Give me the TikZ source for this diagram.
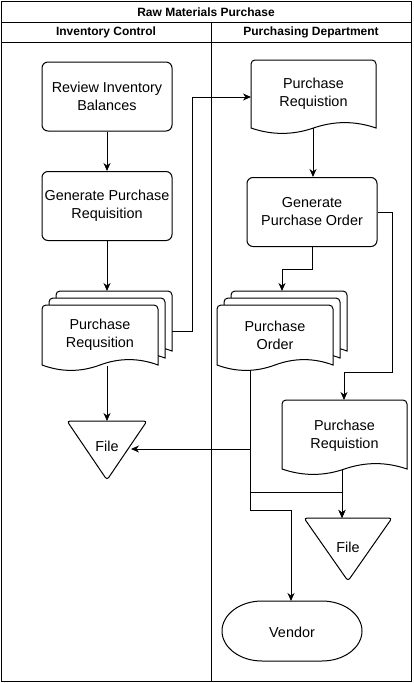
\documentclass[tikz,border=0pt]{standalone}
\usepackage{fontspec}
\setmainfont{Liberation Sans}
\usetikzlibrary{arrows.meta}
\tikzset{
  ln/.style={line width=1pt},
  arr/.style={ln,-{Stealth[length=8pt,width=7pt,inset=2.5pt]}},
  shp/.style={ln, fill=white},
  txt/.style={align=center, font=\fontsize{14.4}{18}\selectfont, inner sep=0pt},
  hdr/.style={font=\bfseries\fontsize{12}{14}\selectfont, inner sep=0pt},
  box/.style={inner sep=0pt, outer sep=0pt},
  procbox/.style={draw, ln, rounded corners=6pt, minimum width=130pt, minimum height=69pt, txt},
}
\newcommand\wavedoc[4]{%
  \draw[shp] (#1,#2+#4-6) [rounded corners=4pt] -- (#1,#2) -- (#1+#3,#2) [sharp corners] -- (#1+#3,#2+#4-6)
    .. controls (#1+5*#3/6,#2+#4-13.2) and (#1+2*#3/3,#2+#4-13.2) .. (#1+#3/2,#2+#4-6)
    .. controls (#1+#3/3,#2+#4+1.2) and (#1+#3/6,#2+#4+1.2) .. (#1,#2+#4-6) -- cycle;}
\begin{document}
\begin{tikzpicture}[x=1pt,y=-1pt]
\useasboundingbox (0,0) rectangle (413,683);
% frame
\draw[ln] (1,1) rectangle (411,681);
\draw[ln] (1,22) -- (411,22);
\draw[ln] (1,42) -- (411,42);
\draw[ln] (211,22) -- (211,681);
\node[hdr] (title) at (206,12) {Raw Materials Purchase};
\node[hdr] (lane1) at (106,32) {Inventory Control};
\node[hdr] (lane2) at (311,32) {Purchasing Department};

% left lane
\node[procbox] (rev) at (107,96.5) {Review Inventory\\Balances};
\node[procbox] (gpr) at (107,206) {Generate Purchase\\Requisition};
\wavedoc{56}{291}{116}{66}
\wavedoc{49}{298}{116}{66}
\wavedoc{42}{305}{116}{66}
\node[box, minimum width=130pt, minimum height=80pt] (mdl) at (107,331) {};
\node[txt] (mdlt) at (100,334.5) {Purchase\\Requsition};
\coordinate (mdlout) at (107,366);
\draw[shp, rounded corners=3pt] (67,421) -- (147,421) -- (107,480) -- cycle;
\node[txt] (file1) at (107,446) {File};
\coordinate (file1top) at (107,421);
\coordinate (file1in) at (131,449);

% right lane
\wavedoc{251}{60}{125}{74}
\node[box, minimum width=125pt, minimum height=74pt] (prr) at (313.5,97) {};
\node[txt] (prrt) at (313.5,93.5) {Purchase\\Requistion};
\coordinate (prrout) at (313,128);
\node[procbox] (gpo) at (312,212) {Generate\\Purchase Order};
\wavedoc{231}{291}{116}{66}
\wavedoc{224}{298}{116}{66}
\wavedoc{217}{305}{116}{66}
\node[box, minimum width=130pt, minimum height=80pt] (mdr) at (282,331) {};
\node[txt] (mdrt) at (275,335) {Purchase\\Order};
\coordinate (mdrout) at (250,370);
\wavedoc{282}{400}{125}{75}
\node[box, minimum width=125pt, minimum height=75pt] (pr2) at (344.5,437.5) {};
\node[txt] (pr2t) at (344.5,436) {Purchase\\Requistion};
\coordinate (pr2out) at (342,469);
\draw[shp, rounded corners=3pt] (304,518) -- (392,518) -- (348,581) -- cycle;
\node[txt] (file2) at (348,547) {File};
\coordinate (file2top) at (342,518);
\draw[shp] (262,601) -- (322,601)
  .. controls (344,601) and (362,614.4) .. (362,631)
  .. controls (362,647.6) and (344,661) .. (322,661)
  -- (262,661)
  .. controls (240,661) and (222,647.6) .. (222,631)
  .. controls (222,614.4) and (240,601) .. (262,601) -- cycle;
\node[txt] (vendor) at (292,632) {Vendor};
\coordinate (vendortop) at (291,601);

% connectors
\draw[arr] (rev.south) -- (gpr.north);
\draw[arr] (gpr.south) -- (mdl.north);
\draw[arr] (mdl.east) -- (192,331) -- (192,97) -- (prr.west |- 0,97);
\draw[arr] (mdlout) -- (file1top);
\draw[arr] (prrout) -- (prrout |- gpo.north);
\draw[arr] (gpo.south) -- (312,269) -- (282,269) -- (mdr.north);
\draw[arr] (gpo.east) -- (392,212) -- (392,372) -- (344,372) -- (344,400);
\draw[arr] (pr2out) -- (file2top);
\draw[arr] (mdrout) -- (250,449) -- (file1in);
\draw[arr] (mdrout) -- (250,492) -- (342,492) -- (file2top);
\draw[arr] (mdrout) -- (250,510) -- (291,510) -- (vendortop);
\end{tikzpicture}
\end{document}
